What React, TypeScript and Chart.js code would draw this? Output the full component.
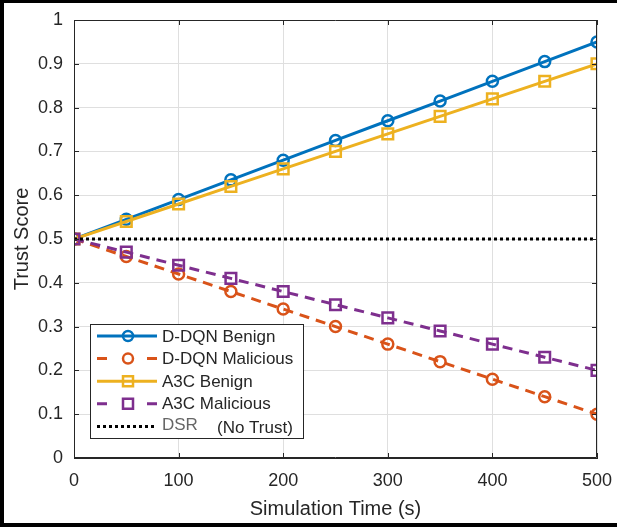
import React, { useEffect, useRef } from "react";
import { Chart, registerables } from "chart.js";

Chart.register(...registerables);

const times = [0, 50, 100, 150, 200, 250, 300, 350, 400, 450, 500];
const ddqnBenign = [0.5, 0.545, 0.59, 0.635, 0.68, 0.725, 0.77, 0.815, 0.86, 0.905, 0.95];
const ddqnMalicious = [0.5, 0.46, 0.42, 0.38, 0.34, 0.3, 0.26, 0.22, 0.18, 0.14, 0.1];
const a3cBenign = [0.5, 0.54, 0.58, 0.62, 0.66, 0.7, 0.74, 0.78, 0.82, 0.86, 0.9];
const a3cMalicious = [0.5, 0.47, 0.44, 0.41, 0.38, 0.35, 0.32, 0.29, 0.26, 0.23, 0.2];
const dsrTimes = [0, 500];
const dsrValues = [0.5, 0.5];

const xTicks = [0, 100, 200, 300, 400, 500];
const yTicks = [0, 0.1, 0.2, 0.3, 0.4, 0.5, 0.6, 0.7, 0.8, 0.9, 1];

const seriesNames = ["D-DQN Benign", "D-DQN Malicious", "A3C Benign", "A3C Malicious", "DSR"];
const xTitle = "Simulation Time (s)";
const yTitle = "Trust Score";

const BLUE = "#0072BD";
const ORANGE = "#D95319";
const YELLOW = "#EDB120";
const PURPLE = "#7E2F8E";
const AXIS = "#262626";
const FONT = "'Liberation Sans', Arial, sans-serif";

const pts = (xs: number[], ys: number[]) => xs.map((x, i) => ({ x, y: ys[i] }));

const framePlugin = {
  id: "frame",
  beforeDraw(chart: any) {
    const ctx = chart.ctx;
    ctx.save();
    ctx.fillStyle = "#ffffff";
    ctx.fillRect(0, 0, chart.width, chart.height);
    ctx.restore();
  },
  afterDraw(chart: any) {
    const ctx = chart.ctx;
    const { left, right, top, bottom } = chart.chartArea;
    const xs = chart.scales.x;
    const ys = chart.scales.y;
    ctx.save();
    ctx.strokeStyle = AXIS;
    ctx.lineWidth = 1;
    ctx.beginPath();
    ctx.rect(left + 0.5, top + 0.5, right - left - 1, bottom - top - 1);
    ctx.stroke();
    const tl = 5;
    ctx.beginPath();
    xTicks.forEach((v) => {
      const px = Math.round(xs.getPixelForValue(v)) + 0.5;
      ctx.moveTo(px, bottom);
      ctx.lineTo(px, bottom - tl);
      ctx.moveTo(px, top);
      ctx.lineTo(px, top + tl);
    });
    yTicks.forEach((v) => {
      const py = Math.round(ys.getPixelForValue(v)) + 0.5;
      ctx.moveTo(left, py);
      ctx.lineTo(left + tl, py);
      ctx.moveTo(right, py);
      ctx.lineTo(right - tl, py);
    });
    ctx.stroke();
    ctx.fillStyle = "#000000";
    ctx.fillRect(0, 0, chart.width, 3);
    ctx.fillRect(0, 0, 4, chart.height);
    ctx.fillRect(0, chart.height - 4, chart.width, 4);
    ctx.restore();
  },
};

const legendPlugin = {
  id: "customLegend",
  afterDraw(chart: any) {
    const ctx = chart.ctx;
    const bx = 90, by = 324, bw = 213, bh = 114;
    ctx.save();
    ctx.fillStyle = "#ffffff";
    ctx.fillRect(bx, by, bw, bh);
    ctx.strokeStyle = AXIS;
    ctx.lineWidth = 1;
    ctx.strokeRect(bx + 0.5, by + 0.5, bw, bh);
    const rows = [
      { c: BLUE, dash: [], m: "circle" },
      { c: ORANGE, dash: [8, 6], m: "circle" },
      { c: YELLOW, dash: [], m: "square" },
      { c: PURPLE, dash: [8, 6], m: "square" },
      { c: "#000000", dash: [3, 3], m: "none" },
    ];
    const x0 = 97, x1 = 157, mx = 128, tx = 162;
    rows.forEach((r, i) => {
      const y = 336 + i * 22.6;
      ctx.strokeStyle = r.c;
      ctx.lineWidth = 3;
      ctx.setLineDash(r.dash);
      ctx.beginPath();
      if (r.dash.length === 2 && r.m !== "none") {
        ctx.setLineDash([]);
        ctx.moveTo(x0, y); ctx.lineTo(x0 + 10, y);
        ctx.moveTo(x1 - 10, y); ctx.lineTo(x1, y);
      } else {
        ctx.moveTo(x0, y); ctx.lineTo(x1, y);
      }
      ctx.stroke();
      ctx.setLineDash([]);
      ctx.lineWidth = 2.5;
      ctx.beginPath();
      if (r.m === "circle") {
        ctx.arc(mx, y, 5, 0, Math.PI * 2);
        ctx.stroke();
      } else if (r.m === "square") {
        ctx.rect(mx - 5, y - 5, 10, 10);
        ctx.stroke();
      }
      ctx.font = `17px ${FONT}`;
      ctx.textBaseline = "middle";
      ctx.textAlign = "left";
      if (i < 4) {
        ctx.fillStyle = AXIS;
        ctx.fillText(seriesNames[i], tx, y + 1);
      } else {
        ctx.fillStyle = "#666666";
        ctx.fillText(seriesNames[4], tx, y - 1);
        ctx.fillStyle = AXIS;
        ctx.fillText("(No Trust)", 217, y + 2);
      }
    });
    ctx.restore();
  },
};

export default function App() {
  const ref = useRef<HTMLCanvasElement | null>(null);
  useEffect(() => {
    if (!ref.current) return;
    const common = { borderWidth: 3, pointBorderWidth: 2.5, pointBackgroundColor: "rgba(0,0,0,0)", tension: 0 };
    const chart = new Chart(ref.current, {
      type: "line",
      data: {
        datasets: [
          { ...common, label: seriesNames[0], data: pts(times, ddqnBenign), borderColor: BLUE, pointBorderColor: BLUE, pointStyle: "circle", pointRadius: 5.5, order: 5 },
          { ...common, label: seriesNames[1], data: pts(times, ddqnMalicious), borderColor: ORANGE, pointBorderColor: ORANGE, borderDash: [10, 7], pointStyle: "circle", pointRadius: 5.5, order: 4 },
          { ...common, label: seriesNames[2], data: pts(times, a3cBenign), borderColor: YELLOW, pointBorderColor: YELLOW, pointStyle: "rect", pointRadius: 7.5, order: 3 },
          { ...common, label: seriesNames[3], data: pts(times, a3cMalicious), borderColor: PURPLE, pointBorderColor: PURPLE, borderDash: [10, 7], pointStyle: "rect", pointRadius: 7.5, order: 2 },
          { ...common, label: seriesNames[4], data: pts(dsrTimes, dsrValues), borderColor: "#000000", borderDash: [3, 3], pointRadius: 0, order: 1 },
        ] as any,
      },
      options: {
        animation: false,
        responsive: false,
        devicePixelRatio: 1,
        layout: { padding: { left: 0, right: 20, top: 20, bottom: 0 } },
        plugins: { legend: { display: false }, tooltip: { enabled: false } },
        scales: {
          x: {
            type: "linear",
            min: 0,
            max: 500,
            afterBuildTicks: (s: any) => { s.ticks = xTicks.map((v) => ({ value: v })); },
            afterFit: (s: any) => { s.height = 69; s.paddingRight = 0; s.paddingLeft = 0; },
            ticks: { color: AXIS, font: { family: FONT, size: 18 }, padding: 12, maxRotation: 0, callback: (v: any) => String(v) },
            grid: { color: "#dfdfdf", drawTicks: false, lineWidth: 1 },
            border: { display: true, color: AXIS },
            title: { display: true, text: xTitle, color: AXIS, font: { family: FONT, size: 20 }, padding: { top: 0, bottom: 6 } },
          },
          y: {
            type: "linear",
            min: 0,
            max: 1,
            afterBuildTicks: (s: any) => { s.ticks = yTicks.map((v) => ({ value: v })); },
            afterFit: (s: any) => { s.width = 74; s.paddingTop = 0; s.paddingBottom = 0; },
            ticks: { color: AXIS, font: { family: FONT, size: 18 }, padding: 11, callback: (v: any) => String(v) },
            grid: { color: "#dfdfdf", drawTicks: false, lineWidth: 1 },
            border: { display: true, color: AXIS },
            title: { display: true, text: yTitle, color: AXIS, font: { family: FONT, size: 20 }, padding: { top: 10, bottom: 0 } },
          },
        },
      } as any,
      plugins: [framePlugin, legendPlugin],
    });
    return () => chart.destroy();
  }, []);
  return (
    <div style={{ position: "absolute", left: 0, top: 0, width: 617, height: 527, background: "#fff" }}>
      <canvas ref={ref} width={617} height={527} style={{ display: "block", width: 617, height: 527 }} />
    </div>
  );
}
